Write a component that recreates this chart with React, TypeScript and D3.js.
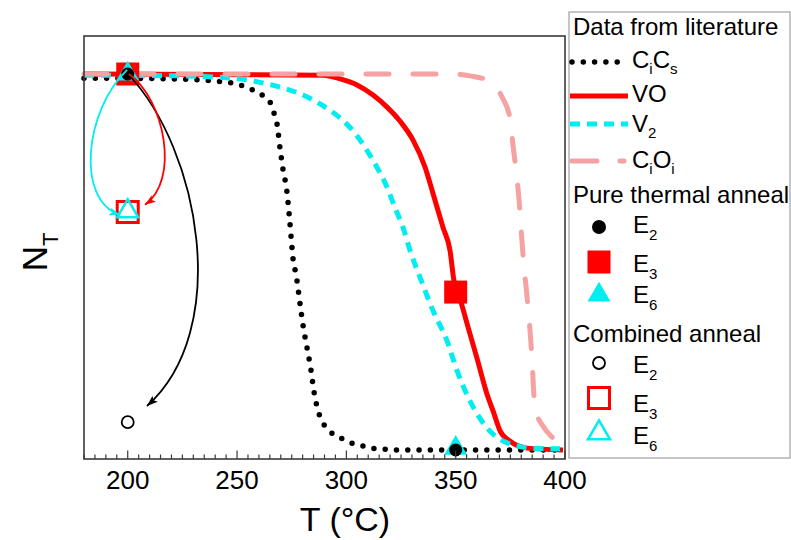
import React from 'react';
import * as d3 from 'd3';

// literature anneal curves (T in °C, normalised N_T)
const ciCsT = [180, 219.8, 239.9, 250, 255, 260, 265.1, 266.9, 268.3, 269.6, 271, 272.8, 273.8, 274.7, 275.6, 276.5, 277.4, 278.8, 280.2, 282, 283.8, 285.2, 287.5, 289.3, 292.1, 296.6, 301.2, 306.2, 311.3, 316.3, 321.3, 395.4];
const ciCsN = [0.989, 0.987, 0.981, 0.973, 0.963, 0.949, 0.925, 0.896, 0.867, 0.805, 0.747, 0.688, 0.629, 0.568, 0.509, 0.48, 0.451, 0.389, 0.331, 0.272, 0.213, 0.155, 0.096, 0.072, 0.051, 0.035, 0.021, 0.013, 0.005, 0.003, 0, 0];

const voT = [180, 289.3, 297.1, 304.9, 312.2, 318.6, 324.5, 330.5, 336, 339.6, 344.2, 347.4, 349.2, 351.1, 352.9, 355.2, 359.7, 364.3, 367.1, 370.3, 374.8, 382.6, 399.1];
const voN = [1, 0.997, 0.987, 0.971, 0.944, 0.912, 0.875, 0.824, 0.752, 0.683, 0.592, 0.531, 0.451, 0.416, 0.384, 0.336, 0.245, 0.149, 0.104, 0.051, 0.024, 0.005, 0];

const v2T = [180, 223.9, 251.4, 261.9, 271, 280.2, 288.9, 297.1, 303.9, 309.4, 314, 318.6, 322.2, 325.9, 329.1, 333.7, 339.6, 346, 350.6, 356.5, 364.3, 371.6, 385.4, 397.7];
const v2N = [0.997, 0.995, 0.987, 0.976, 0.963, 0.944, 0.917, 0.883, 0.843, 0.797, 0.752, 0.699, 0.645, 0.592, 0.531, 0.459, 0.371, 0.291, 0.211, 0.131, 0.059, 0.024, 0.005, 0.003];

const ciOiT = [180, 347.4, 356.5, 364.3, 371.2, 374.8, 376.2, 377.6, 379, 380.3, 381.2, 382.6, 384, 384.9, 385.8, 386.7, 389.9, 394.5, 399.1];
const ciOiN = [1, 1, 0.995, 0.984, 0.939, 0.883, 0.811, 0.744, 0.664, 0.557, 0.491, 0.411, 0.317, 0.243, 0.144, 0.104, 0.064, 0.032, 0.005];

// measured points
const pureE2 = [[200, 1.0], [350, 0]];
const pureE3 = [[200, 1.0], [350, 0.42]];
const pureE6 = [[200, 1.0], [350, 0.005]];
const combE2 = [[200, 0.074]];
const combE3 = [[200, 0.633]];
const combE6 = [[200, 0.635]];

// annotation arrows: cubic bezier control points (T, N)
const arrowE2 = [[200.1, 1.0], [233.1, 0.798], [247.7, 0.319], [208.8, 0.117]];
const arrowE3 = [[200.6, 1.0], [217.0, 0.931], [223.9, 0.718], [207.9, 0.652]];
const arrowE6 = [[199.7, 1.011], [180.5, 0.904], [175.9, 0.665], [196.5, 0.625]];

const xMajor = [200, 250, 300, 350, 400];

const RED = '#ff0000';
const CYAN = '#00eef0';
const PINK = '#f4a2a2';
const FONT = 'Liberation Sans, Arial, sans-serif';

type Part = [string, boolean];
const lineLabels: Part[][] = [
  [['C', false], ['i', true], ['C', false], ['s', true]],
  [['VO', false]],
  [['V', false], ['2', true]],
  [['C', false], ['i', true], ['O', false], ['i', true]],
];
const pointLabels: Part[][] = [
  [['E', false], ['2', true]],
  [['E', false], ['3', true]],
  [['E', false], ['6', true]],
];

function Label({ parts, x, y, size, sub, shift }: { parts: Part[]; x: number; y: number; size: number; sub: number; shift: number }) {
  let prevSub = false;
  return (
    <text x={x} y={y} fontSize={size} fontFamily={FONT} fill="#000">
      {parts.map(([t, s], i) => {
        const dy = s === prevSub ? 0 : s ? shift : -shift;
        prevSub = s;
        return (
          <tspan key={i} dy={dy} fontSize={s ? sub : size}>{t}</tspan>
        );
      })}
    </text>
  );
}

const triPath = (w: number) => {
  const h = w * 0.86;
  return `M0,${-2 * h / 3}L${w / 2},${h / 3}L${-w / 2},${h / 3}Z`;
};

export default function App() {
  const x = d3.scaleLinear().domain([180, 400]).range([84, 565]);
  const y = d3.scaleLinear().domain([0, 1]).range([450, 74]);
  const top = 36, bottom = 459;

  const line = d3.line<number[]>().x(d => x(d[0])).y(d => y(d[1])).curve(d3.curveMonotoneX);
  const zip = (a: number[], b: number[]) => a.map((v, i) => [v, b[i]]);

  const bez = (pts: number[][]) => {
    const p = d3.path();
    p.moveTo(x(pts[0][0]), y(pts[0][1]));
    p.bezierCurveTo(x(pts[1][0]), y(pts[1][1]), x(pts[2][0]), y(pts[2][1]), x(pts[3][0]), y(pts[3][1]));
    return p.toString();
  };

  const minor = d3.range(180, 401, 5).filter(v => !xMajor.includes(v));

  const styles = [
    { stroke: '#000', width: 5.5, dash: '0 11.3', cap: 'round' },
    { stroke: RED, width: 5, dash: undefined, cap: 'butt' },
    { stroke: CYAN, width: 5, dash: '10 7', cap: 'butt' },
    { stroke: PINK, width: 5, dash: '23 24', cap: 'round' },
  ];
  const series = [zip(ciCsT, ciCsN), zip(voT, voN), zip(v2T, v2N), zip(ciOiT, ciOiN)];

  const lgX = 569;
  const lineRows = [62, 96, 124, 161];
  const lineBase = [68, 102, 132, 168];
  const pureRows = [227, 262, 295];
  const pureBase = [233, 272, 303];
  const combRows = [363, 398, 433];
  const combBase = [373, 412, 444];

  return (
    <svg width={791} height={540} style={{ position: 'absolute', left: 0, top: 0, background: '#fff' }}>
      <defs>
        {[['k', '#000'], ['r', RED], ['c', CYAN]].map(([id, c]) => (
          <marker key={id} id={`ah-${id}`} markerUnits="userSpaceOnUse" markerWidth={12} markerHeight={10}
            refX={11} refY={4} orient="auto">
            <path d="M0,0L11,4L0,8L2.5,4Z" fill={c} />
          </marker>
        ))}
      </defs>

      {/* curves */}
      {series.map((s, i) => (
        <path key={i} d={line(s) || ''} fill="none" stroke={styles[i].stroke} strokeWidth={styles[i].width}
          strokeDasharray={styles[i].dash} strokeLinecap={styles[i].cap as any} />
      ))}

      {/* pure thermal anneal */}
      {pureE3.map((d, i) => (
        <rect key={'ps' + i} x={x(d[0]) - 11.5} y={y(d[1]) - 11.5} width={23} height={23} fill={RED} />
      ))}
      {pureE6.map((d, i) => (
        <path key={'pt' + i} d={triPath(23)} transform={`translate(${x(d[0])},${y(d[1])})`} fill={CYAN} />
      ))}
      {pureE2.map((d, i) => (
        <circle key={'pc' + i} cx={x(d[0])} cy={y(d[1])} r={6.5} fill="#000" />
      ))}

      {/* combined anneal */}
      {combE3.map((d, i) => (
        <rect key={'cs' + i} x={x(d[0]) - 10.5} y={y(d[1]) - 10.5} width={21} height={21} fill="none" stroke={RED} strokeWidth={3} />
      ))}
      {combE6.map((d, i) => (
        <path key={'ct' + i} d={triPath(21)} transform={`translate(${x(d[0])},${y(d[1])})`} fill="none" stroke={CYAN} strokeWidth={2.5} />
      ))}
      {combE2.map((d, i) => (
        <circle key={'cc' + i} cx={x(d[0])} cy={y(d[1])} r={6} fill="none" stroke="#000" strokeWidth={1.8} />
      ))}

      {/* arrows */}
      <path d={bez(arrowE2)} fill="none" stroke="#000" strokeWidth={1.8} markerEnd="url(#ah-k)" />
      <path d={bez(arrowE3)} fill="none" stroke={RED} strokeWidth={1.8} markerEnd="url(#ah-r)" />
      <path d={bez(arrowE6)} fill="none" stroke={CYAN} strokeWidth={1.8} markerEnd="url(#ah-c)" />

      {/* frame + ticks */}
      <rect x={84} y={top} width={565 - 84} height={bottom - top} fill="none" stroke="#3a3a3a" strokeWidth={1.6} />
      {minor.map(v => (
        <line key={'mi' + v} x1={x(v)} x2={x(v)} y1={bottom} y2={bottom - 4.5} stroke="#3a3a3a" strokeWidth={1.2} />
      ))}
      {xMajor.map(v => (
        <line key={'ma' + v} x1={x(v)} x2={x(v)} y1={bottom} y2={bottom - 8.5} stroke="#3a3a3a" strokeWidth={1.2} />
      ))}
      {xMajor.map(v => (
        <text key={'tl' + v} x={x(v)} y={489} textAnchor="middle" fontSize={26} fontFamily={FONT}>{v}</text>
      ))}
      <text x={345} y={531} textAnchor="middle" fontSize={34} fontFamily={FONT}>T (°C)</text>
      <g transform="translate(47,252) rotate(-90)">
        <text x={0} y={0} textAnchor="middle" fontSize={35} fontFamily={FONT}>
          N<tspan dy={11} fontSize={22}>T</tspan>
        </text>
      </g>

      {/* legend */}
      <rect x={lgX} y={12} width={221} height={446} fill="#fff" stroke="#a0a0a0" strokeWidth={1.2} />
      <text x={573} y={35} fontSize={24} fontFamily={FONT}>Data from literature</text>
      {lineRows.map((ry, i) => (
        <g key={'ll' + i}>
          <line x1={styles[i].cap === 'round' ? 572 : 570} x2={styles[i].cap === 'round' ? 624 : 628} y1={ry} y2={ry}
            stroke={styles[i].stroke} strokeWidth={styles[i].width}
            strokeDasharray={i === 3 ? '25 23' : styles[i].dash} strokeLinecap={styles[i].cap as any} />
          <Label parts={lineLabels[i]} x={632} y={lineBase[i]} size={24} sub={15} shift={6} />
        </g>
      ))}
      <text x={573} y={203} fontSize={24} fontFamily={FONT}>Pure thermal anneal</text>
      <circle cx={599} cy={pureRows[0]} r={7} fill="#000" />
      <rect x={599 - 11.5} y={pureRows[1] - 11.5} width={23} height={23} fill={RED} />
      <path d={triPath(23)} transform={`translate(599,${pureRows[2]})`} fill={CYAN} />
      {pureRows.map((r, i) => (
        <Label key={'pl' + i} parts={pointLabels[i]} x={633} y={pureBase[i]} size={24} sub={15} shift={7} />
      ))}
      <text x={573} y={342} fontSize={24} fontFamily={FONT}>Combined anneal</text>
      <circle cx={599} cy={combRows[0]} r={6} fill="none" stroke="#000" strokeWidth={1.8} />
      <rect x={599 - 10.5} y={combRows[1] - 10.5} width={21} height={21} fill="none" stroke={RED} strokeWidth={3} />
      <path d={triPath(22)} transform={`translate(599,${combRows[2]})`} fill="none" stroke={CYAN} strokeWidth={2.5} />
      {combRows.map((r, i) => (
        <Label key={'cl' + i} parts={pointLabels[i]} x={633} y={combBase[i]} size={24} sub={15} shift={7} />
      ))}
    </svg>
  );
}
